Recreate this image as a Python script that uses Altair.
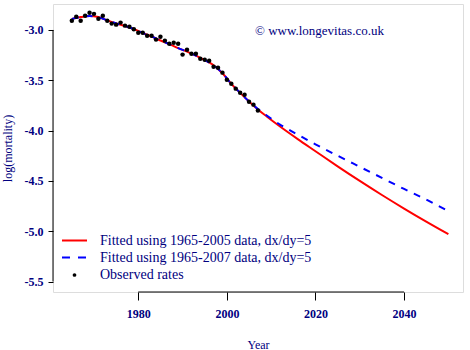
import altair as alt
import pandas as pd

# ---------------- data ----------------
obs_years = list(range(1965, 2008))
obs_vals = [-2.908, -2.868, -2.908, -2.858, -2.828, -2.840, -2.888, -2.858, -2.908, -2.937,
            -2.947, -2.927, -2.957, -2.967, -2.993, -3.027, -3.027, -3.057, -3.057, -3.096,
            -3.067, -3.106, -3.136, -3.126, -3.136, -3.245, -3.196, -3.236, -3.236, -3.285,
            -3.295, -3.305, -3.365, -3.375, -3.424, -3.494, -3.534, -3.583, -3.623, -3.643,
            -3.713, -3.742, -3.800]

fit_years = [1965, 1967, 1969, 1971, 1973, 1975, 1977, 1979, 1981, 1983, 1985, 1987, 1989,
             1991, 1993, 1995, 1997, 1999, 2001, 2003, 2005, 2007, 2009, 2012, 2016, 2020,
             2025, 2030, 2035, 2040, 2045, 2050]
fit_2005 = [-2.890, -2.872, -2.862, -2.872, -2.905, -2.935, -2.960, -2.990, -3.030, -3.065,
            -3.105, -3.140, -3.180, -3.215, -3.255, -3.300, -3.350, -3.430, -3.535, -3.625,
            -3.710, -3.790, -3.860, -3.960, -4.085, -4.205, -4.355, -4.500, -4.640, -4.775,
            -4.905, -5.030]
fit_2007 = [-2.890, -2.872, -2.862, -2.872, -2.905, -2.935, -2.960, -2.990, -3.030, -3.065,
            -3.105, -3.140, -3.180, -3.215, -3.255, -3.300, -3.350, -3.430, -3.535, -3.625,
            -3.710, -3.785, -3.850, -3.940, -4.040, -4.136, -4.250, -4.360, -4.470, -4.580,
            -4.685, -4.800]

x_ticks = [1980, 2000, 2020, 2040]
y_ticks = [-3.0, -3.5, -4.0, -4.5, -5.0, -5.5]

legend_labels = ["Fitted using 1965-2005 data, dx/dy=5",
                 "Fitted using 1965-2007 data, dx/dy=5",
                 "Observed rates"]
copyright_text = "\u00a9 www.longevitas.co.uk"

# ---------------- styling ----------------
FONT = "Liberation Serif"
TXT = "#000080"
W, H = 410, 288
x_dom = [1960.75, 2053.3]
y_dom = [-5.604, -2.742]

obs = pd.DataFrame({"year": obs_years, "val": obs_vals})
fit_a = pd.DataFrame({"year": fit_years, "val": fit_2005})
fit_b = pd.DataFrame({"year": fit_years, "val": fit_2007})

xs = alt.Scale(domain=x_dom, nice=False, zero=False)
ys = alt.Scale(domain=y_dom, nice=False, zero=False)

x_axis = alt.Axis(values=x_ticks, format="d", domain=False, grid=False, tickSize=8,
                  tickColor="black", labelFont=FONT, labelFontSize=12, labelFontWeight="bold",
                  labelColor=TXT, labelPadding=8, title="Year", titleFont=FONT,
                  titleFontSize=12, titleFontWeight="normal", titleColor=TXT, titlePadding=20)
y_axis = alt.Axis(values=y_ticks, domain=False, grid=False, tickSize=5, tickColor="black",
                  labelExpr="replace(format(datum.value, '.1f'), '\u2212', '-')",
                  labelFont=FONT, labelFontSize=12, labelFontWeight="bold", labelColor=TXT,
                  labelPadding=5, title="log(mortality)", titleFont=FONT, titleFontSize=12,
                  titleFontWeight="normal", titleColor=TXT, titlePadding=10)

red = alt.Chart(fit_a).mark_line(color="#FF0000", strokeWidth=2, interpolate="monotone").encode(
    x=alt.X("year:Q", scale=xs, axis=x_axis),
    y=alt.Y("val:Q", scale=ys, axis=y_axis),
)
blue = alt.Chart(fit_b).mark_line(color="#0000FF", strokeWidth=2, strokeDash=[7, 7],
                                  interpolate="monotone").encode(
    x=alt.X("year:Q", scale=xs), y=alt.Y("val:Q", scale=ys))
pts = alt.Chart(obs).mark_circle(color="black", opacity=1, size=20).encode(
    x=alt.X("year:Q", scale=xs), y=alt.Y("val:Q", scale=ys))

# R-style axis lines spanning first to last tick
xline_df = pd.DataFrame({"a": [min(x_ticks)], "b": [max(x_ticks)]})
yline_df = pd.DataFrame({"a": [min(y_ticks)], "b": [max(y_ticks)]})
xline = alt.Chart(xline_df).mark_rule(color="black", strokeWidth=1).encode(
    x=alt.X("a:Q", scale=xs), x2="b:Q", y=alt.value(H))
yline = alt.Chart(yline_df).mark_rule(color="black", strokeWidth=1).encode(
    y=alt.Y("a:Q", scale=ys), y2="b:Q", x=alt.value(0))

copy_txt = alt.Chart(pd.DataFrame({"t": [copyright_text]})).mark_text(
    font=FONT, fontSize=13, color=TXT, align="left", baseline="middle").encode(
    text="t:N", x=alt.value(202), y=alt.value(27))

# manual legend
leg_df = pd.DataFrame({"t": legend_labels})
leg_red = alt.Chart(leg_df.iloc[[0]]).mark_rule(color="#FF0000", strokeWidth=2).encode(
    x=alt.value(9), x2=alt.value(34), y=alt.value(236.5))
leg_blue = alt.Chart(leg_df.iloc[[1]]).mark_rule(color="#0000FF", strokeWidth=2,
                                                 strokeDash=[8, 8]).encode(
    x=alt.value(9), x2=alt.value(34), y=alt.value(253.5))
leg_pt = alt.Chart(leg_df.iloc[[2]]).mark_circle(color="black", opacity=1, size=14).encode(
    x=alt.value(21.5), y=alt.value(271))
leg_t = [
    alt.Chart(leg_df.iloc[[i]]).mark_text(font=FONT, fontSize=14, color=TXT, align="left",
                                          baseline="middle").encode(
        text="t:N", x=alt.value(47), y=alt.value(yy))
    for i, yy in zip(range(3), [236.5, 253.5, 270.5])
]

chart = alt.layer(red, blue, pts, xline, yline, copy_txt, leg_red, leg_blue, leg_pt, *leg_t).properties(
    width=W, height=H,
    padding={"left": 53, "top": 4, "right": 7, "bottom": 58},
    autosize=alt.AutoSizeParams(type="none"),
).configure_view(stroke=None).configure(background="white")

chart.save("out.html", embed_options={"renderer": "svg", "actions": False})
